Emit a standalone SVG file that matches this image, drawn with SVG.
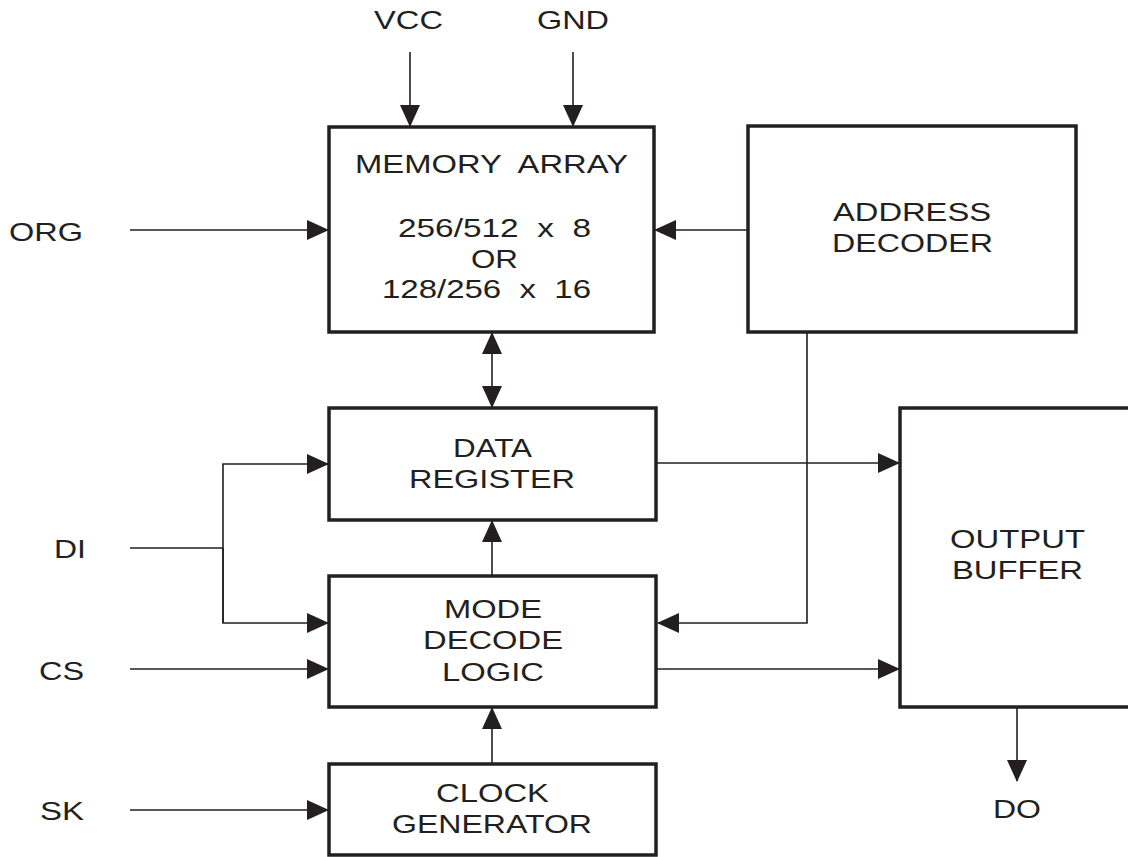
<svg xmlns="http://www.w3.org/2000/svg" width="1128" height="857" viewBox="0 0 1128 857">
<style>
.box{fill:#fff;stroke:#231f20;stroke-width:3.5}
.ln{fill:none;stroke:#231f20;stroke-width:1.6}
.t{font-family:"Liberation Sans",Arial,sans-serif;font-size:25px;fill:#231f20}
</style>
<defs>
<marker id="ah" markerUnits="userSpaceOnUse" markerWidth="22" markerHeight="20" refX="21" refY="10" orient="auto-start-reverse" viewBox="0 0 22 20">
<path d="M0,0 L22,10 L0,20 z" fill="#231f20"/>
</marker>
</defs>
<rect width="1128" height="857" fill="#fff"/>
<g id="connectors">
<line class="ln" x1="410" y1="52" x2="410" y2="126" marker-end="url(#ah)"/>
<line class="ln" x1="573" y1="52" x2="573" y2="126" marker-end="url(#ah)"/>
<line class="ln" x1="130" y1="230" x2="328" y2="230" marker-end="url(#ah)"/>
<line class="ln" x1="748" y1="230" x2="655" y2="230" marker-end="url(#ah)"/>
<line class="ln" x1="492" y1="333" x2="492" y2="407" marker-start="url(#ah)" marker-end="url(#ah)"/>
<polyline class="ln" points="130,548 223,548"/>
<polyline class="ln" points="223,623 223,464 328,464" marker-end="url(#ah)"/>
<polyline class="ln" points="223,548 223,623 328,623" marker-end="url(#ah)"/>
<line class="ln" x1="130" y1="669" x2="328" y2="669" marker-end="url(#ah)"/>
<line class="ln" x1="130" y1="810" x2="328" y2="810" marker-end="url(#ah)"/>
<line class="ln" x1="492" y1="576" x2="492" y2="521" marker-end="url(#ah)"/>
<line class="ln" x1="492" y1="764" x2="492" y2="708" marker-end="url(#ah)"/>
<polyline class="ln" points="807,332 807,623 658,623" marker-end="url(#ah)"/>
<line class="ln" x1="656" y1="463" x2="899" y2="463" marker-end="url(#ah)"/>
<line class="ln" x1="656" y1="669" x2="899" y2="669" marker-end="url(#ah)"/>
<line class="ln" x1="1017" y1="707" x2="1017" y2="781" marker-end="url(#ah)"/>
</g>
<g id="labels">
<text class="t" x="374" y="29" textLength="69" lengthAdjust="spacingAndGlyphs">VCC</text>
<text class="t" x="537" y="29" textLength="72" lengthAdjust="spacingAndGlyphs">GND</text>
<text class="t" x="9" y="241" textLength="74" lengthAdjust="spacingAndGlyphs">ORG</text>
<text class="t" x="54" y="558" textLength="32" lengthAdjust="spacingAndGlyphs">DI</text>
<text class="t" x="39" y="680" textLength="45" lengthAdjust="spacingAndGlyphs">CS</text>
<text class="t" x="40" y="820" textLength="44" lengthAdjust="spacingAndGlyphs">SK</text>
<text class="t" x="993" y="818" textLength="48" lengthAdjust="spacingAndGlyphs">DO</text>
</g>
<g id="memory-array">
<rect class="box" x="329" y="127" width="325" height="205"/>
<text class="t" x="355" y="173" textLength="273" lengthAdjust="spacingAndGlyphs" xml:space="preserve">MEMORY  ARRAY</text>
<text class="t" x="398" y="237" textLength="193" lengthAdjust="spacingAndGlyphs" xml:space="preserve">256/512  x  8</text>
<text class="t" x="471" y="268" textLength="47" lengthAdjust="spacingAndGlyphs">OR</text>
<text class="t" x="382" y="298" textLength="209" lengthAdjust="spacingAndGlyphs" xml:space="preserve">128/256  x  16</text>
</g>
<g id="address-decoder">
<rect class="box" x="748" y="126" width="328" height="206"/>
<text class="t" x="833" y="221" textLength="158" lengthAdjust="spacingAndGlyphs">ADDRESS</text>
<text class="t" x="832" y="252" textLength="161" lengthAdjust="spacingAndGlyphs">DECODER</text>
</g>
<g id="data-register">
<rect class="box" x="329" y="408" width="327" height="112"/>
<text class="t" x="453" y="457" textLength="79" lengthAdjust="spacingAndGlyphs">DATA</text>
<text class="t" x="409" y="488" textLength="166" lengthAdjust="spacingAndGlyphs">REGISTER</text>
</g>
<g id="mode-decode-logic">
<rect class="box" x="329" y="576" width="327" height="131"/>
<text class="t" x="444" y="618" textLength="98" lengthAdjust="spacingAndGlyphs">MODE</text>
<text class="t" x="423" y="649" textLength="140" lengthAdjust="spacingAndGlyphs">DECODE</text>
<text class="t" x="442" y="681" textLength="102" lengthAdjust="spacingAndGlyphs">LOGIC</text>
</g>
<g id="clock-generator">
<rect class="box" x="329" y="764" width="327" height="91"/>
<text class="t" x="436" y="802" textLength="113" lengthAdjust="spacingAndGlyphs">CLOCK</text>
<text class="t" x="392" y="833" textLength="200" lengthAdjust="spacingAndGlyphs">GENERATOR</text>
</g>
<g id="output-buffer">
<rect class="box" x="900" y="408" width="300" height="299"/>
<text class="t" x="950" y="548" textLength="135" lengthAdjust="spacingAndGlyphs">OUTPUT</text>
<text class="t" x="952" y="579" textLength="131" lengthAdjust="spacingAndGlyphs">BUFFER</text>
</g>
</svg>
